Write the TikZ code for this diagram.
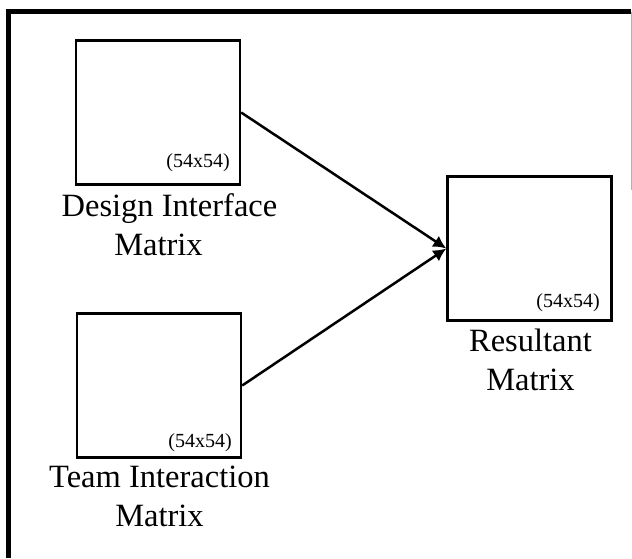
\documentclass[tikz,border=0pt]{standalone}
\usepackage{fontspec}
\setmainfont{Liberation Serif}
\usetikzlibrary{arrows.meta}
\begin{document}
\begin{tikzpicture}[x=1pt,y=-1pt,
  mbox/.style={draw, rectangle, line width=2.4pt, minimum width=164pt, minimum height=144pt, inner sep=0pt},
  lbl/.style={font=\fontsize{32.5}{39}\selectfont, align=center, anchor=base, inner sep=0pt},
  dimlbl/.style={font=\fontsize{20}{24}\selectfont, anchor=base east, inner sep=0pt},
  conn/.style={line width=2.5pt, -{Latex[length=13pt,width=13pt]}},
  frame/.style={line width=5pt, line join=miter}]
\useasboundingbox (0,0) rectangle (632,558);
% frame
\coordinate (fbl) at (8.5,558);
\coordinate (ftl) at (8.5,11.5);
\coordinate (ftr) at (631,11.5);
\coordinate (frb) at (631,190);
\draw[frame] (fbl) -- (ftl) -- (ftr);
\draw[gray!60, line width=0.8pt] (ftr) -- (frb);
% boxes
\node[mbox] (d) at (158,112.5) {};
\node[mbox] (t) at (159,385.5) {};
\node[mbox] (r) at (529.5,248.5) {};
% size labels
\node[dimlbl] (d54) at (230,167) {(54x54)};
\node[dimlbl] (t54) at (232,447) {(54x54)};
\node[dimlbl] (r54) at (600,307) {(54x54)};
% names (base anchor = baseline of the last line)
\node[lbl] (dl) at (169.5,255) {Design Interface\\Matrix\hspace*{22pt}};
\node[lbl] (tl) at (159.5,526) {Team Interaction\\Matrix};
\node[lbl] (rl) at (530.5,390) {Resultant\\Matrix};
% connectors
\draw[conn] (d.east) -- (r.west);
\draw[conn] (t.east) -- (r.west);
\end{tikzpicture}
\end{document}
